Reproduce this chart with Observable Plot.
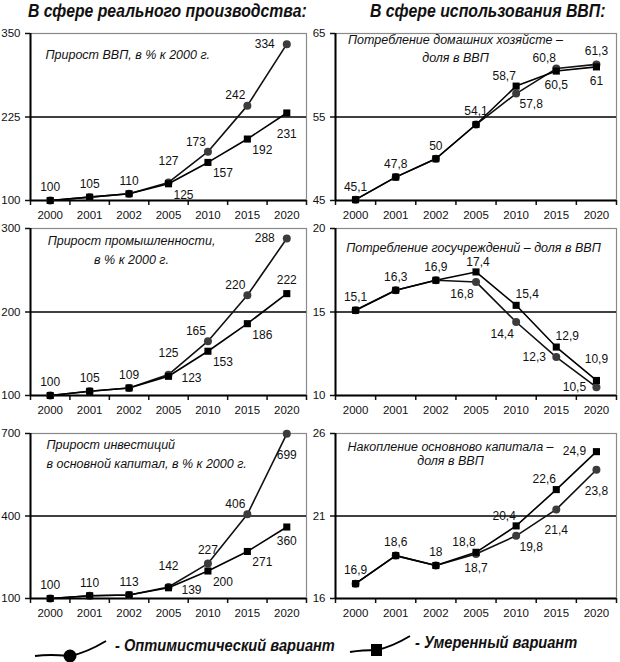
<!DOCTYPE html>
<html>
<head>
<meta charset="utf-8">
<script src="https://cdn.jsdelivr.net/npm/d3@7"></script>
<script src="https://cdn.jsdelivr.net/npm/@observablehq/plot@0.6"></script>
<style>
  html, body { margin: 0; padding: 0; background: #fff; }
  #wrap { position: relative; width: 620px; height: 662px; overflow: hidden; font-family: "Liberation Sans", Arial, sans-serif; }
  #wrap svg.plot { position: absolute; overflow: visible; }
  .hdr { position: absolute; font-weight: bold; font-style: italic; font-size: 18px; line-height: 22px; white-space: nowrap; color: #111; transform-origin: 0 0; }
  .leg { position: absolute; font-weight: bold; font-style: italic; font-size: 17px; line-height: 20px; white-space: nowrap; color: #111; transform-origin: 0 0; }
</style>
</head>
<body>
<div id="wrap">
  <div class="hdr" style="left:28px; top:0px; transform: scaleX(0.875);">В сфере реального производства:</div>
  <div class="hdr" style="left:370px; top:0px; transform: scaleX(0.88);">В сфере использования ВВП:</div>
  <svg style="position:absolute; left:0; top:625px;" width="620" height="37">
    <path d="M35,31 C50,29 58,30 70,31 C85,28 96,22 106,16" fill="none" stroke="#000" stroke-width="2"/>
    <circle cx="70" cy="31" r="6.5" fill="#000"/>
    <path d="M350,27 C362,25 368,25 377,25 C390,22 400,17 410,11" fill="none" stroke="#000" stroke-width="2"/>
    <rect x="371" y="19" width="11" height="12" fill="#000"/>
  </svg>
  <div class="leg" style="left:115px; top:636px; transform: scaleX(0.86);">- Оптимистический вариант</div>
  <div class="leg" style="left:415px; top:633px; transform: scaleX(0.86);">- Умеренный вариант</div>
</div>
<script>
// ---- data ----
const years = ["2000", "2001", "2002", "2005", "2010", "2015", "2020"];

const gdpOpt = [100, 105, 110, 127, 173, 242, 334];
const gdpMod = [100, 105, 110, 125, 157, 192, 231];
const gdpTicks = [100, 225, 350];

const indOpt = [100, 105, 109, 125, 165, 220, 288];
const indMod = [100, 105, 109, 123, 153, 186, 222];
const indTicks = [100, 200, 300];

const invOpt = [100, 110, 113, 142, 227, 406, 699];
const invMod = [100, 110, 113, 139, 200, 271, 360];
const invTicks = [100, 400, 700];

const hhOpt = [45.1, 47.8, 50, 54.1, 57.8, 60.8, 61.3];
const hhMod = [45.1, 47.8, 50, 54.1, 58.7, 60.5, 61];
const hhTicks = [45, 55, 65];

const govOpt = [15.1, 16.3, 16.9, 16.8, 14.4, 12.3, 10.5];
const govMod = [15.1, 16.3, 16.9, 17.4, 15.4, 12.9, 10.9];
const govTicks = [10, 15, 20];

const capOpt = [16.9, 18.6, 18, 18.7, 19.8, 21.4, 23.8];
const capMod = [16.9, 18.6, 18, 18.8, 20.4, 22.6, 24.9];
const capTicks = [16, 21, 26];

// ---- label placement (style) ----
const place = {
  n: [0, -13], nl: [2, -10], nn: [0, -21], s: [0, 14], ss: [0, 21],
  nw: [-12, -10], ne: [11, -11], sw: [-14, 12], se: [15, 11],
  w: [-22, 0], e: [23, 2]
};

const panels = [
  { col: 0, row: 0, opt: gdpOpt, mod: gdpMod, ticks: gdpTicks,
    title: "Прирост ВВП, в % к 2000 г.", tAnchor: "start", tdx: 15, tdy: 19, lh: 1.5,
    optPos: ["n","n","n","nn","nw","nw","w"], modPos: [0,0,0,"se","se","se","ss"] },
  { col: 0, row: 1, opt: indOpt, mod: indMod, ticks: indTicks,
    title: "Прирост промышленности,\nв % к 2000 г.", tAnchor: "middle", tdx: 101, tdy: 20, lh: 1.5,
    optPos: ["n","n","n","nn","nw","nw","w"], modPos: [0,0,0,"e","se","se","n"] },
  { col: 0, row: 2, opt: invOpt, mod: invMod, ticks: invTicks,
    title: "Прирост инвестиций\nв основной капитал, в % к 2000 г.", tAnchor: "start", tdx: 16, tdy: 19, lh: 1.55,
    optPos: ["n","n","n","nn","n","nw","ss"], modPos: [0,0,0,"e","se","se","s"] },
  { col: 1, row: 0, opt: hhOpt, mod: hhMod, ticks: hhTicks,
    title: "Потребление домашних хозяйсте –\nдоля в ВВП", tAnchor: "middle", tdx: 120, tdy: 14, lh: 1.4,
    optPos: ["n","n","n","n","se","nw","n"], modPos: [0,0,0,0,"nw","s","s"] },
  { col: 1, row: 1, opt: govOpt, mod: govMod, ticks: govTicks,
    title: "Потребление госучреждений – доля в ВВП", tAnchor: "middle", tdx: 138, tdy: 18, lh: 1.4,
    optPos: ["n","n","n","sw","sw","w","w"], modPos: [0,0,0,"nl","ne","ne","nn"] },
  { col: 1, row: 2, opt: capOpt, mod: capMod, ticks: capTicks,
    title: "Накопление основново капитала –\nдоля в ВВП", tAnchor: "middle", tdx: 115, tdy: 20, lh: 1.15,
    optPos: ["n","n","n","s","se","ss","ss"], modPos: [0,0,0,"nw","nw","nw","w"] }
];

const frameTop = [33, 228, 433];
const frameH = [167, 167, 165];
const colLeft = [0, 310];
const colMarginLeft = [30, 25];
const fmt = v => String(v).replace(".", ",");
const FONT = '"Liberation Sans", Arial, sans-serif';

const wrap = document.getElementById("wrap");
const n = years.length;
const idx = d3.range(n);

for (const p of panels) {
  const mt = 10, mb = 30;
  const optRows = p.opt.map((v, i) => ({ i, v }));
  const modRows = p.mod.map((v, i) => ({ i, v }));
  const labels = [];
  p.opt.forEach((v, i) => labels.push({ i, v, code: p.optPos[i], text: fmt(v) }));
  p.mod.forEach((v, i) => { if (p.modPos[i]) labels.push({ i, v, code: p.modPos[i], text: fmt(v) }); });
  const labelMarks = Object.keys(place).map(code =>
    Plot.text(labels.filter(l => l.code === code), {
      x: "i", y: "v", text: "text", dx: place[code][0], dy: place[code][1],
      fontSize: 12, fill: "#111"
    })
  );
  const [y0, ym, y1] = p.ticks;
  const svg = Plot.plot({
    width: 310,
    height: mt + frameH[p.row] + mb,
    marginLeft: colMarginLeft[p.col],
    marginRight: 4,
    marginTop: mt,
    marginBottom: mb,
    style: { fontFamily: FONT, fontSize: "12px", color: "#111", background: "transparent", overflow: "visible" },
    x: { domain: [-0.5, n - 0.5], axis: null, label: null },
    y: { domain: [y0, y1], axis: null, label: null },
    marks: [
      Plot.frame({ stroke: "#8a8a8a", strokeWidth: 1.2 }),
      Plot.ruleY([ym], { stroke: "#000", strokeWidth: 1.6 }),
      Plot.axisY({ ticks: p.ticks, tickSize: 5, tickPadding: 5, tickFormat: d => String(d), fontSize: 11.5, strokeWidth: 1.5, label: null }),
      Plot.axisX({ ticks: d3.range(n + 1).map(i => i - 0.5), tickFormat: () => "", tickSize: 5, strokeWidth: 1.5, label: null }),
      Plot.axisX({ ticks: idx, tickFormat: i => years[i], tickSize: 0, tickPadding: 10, fontSize: 11.5, label: null }),
      Plot.ruleY([y0], { stroke: "#000", strokeWidth: 2 }),
      Plot.ruleX([-0.5], { stroke: "#000", strokeWidth: 2 }),
      Plot.line(optRows, { x: "i", y: "v", stroke: "#111", strokeWidth: 1.6 }),
      Plot.line(modRows, { x: "i", y: "v", stroke: "#000", strokeWidth: 1.6 }),
      Plot.dot(optRows, { x: "i", y: "v", r: 4, fill: "#3c3c3c", stroke: "none" }),
      Plot.dot(modRows, { x: "i", y: "v", r: 4, symbol: "square", fill: "#000", stroke: "none" }),
      ...labelMarks,
      Plot.text([p.title], {
        frameAnchor: "top-left", dx: p.tdx, dy: p.tdy, text: d => d,
        textAnchor: p.tAnchor, lineAnchor: "middle", lineHeight: p.lh,
        fontStyle: "italic", fontSize: 12.5, fill: "#111"
      })
    ]
  });
  svg.classList.add("plot");
  svg.style.left = colLeft[p.col] + "px";
  svg.style.top = (frameTop[p.row] - mt) + "px";
  wrap.appendChild(svg);
}
</script>
</body>
</html>
